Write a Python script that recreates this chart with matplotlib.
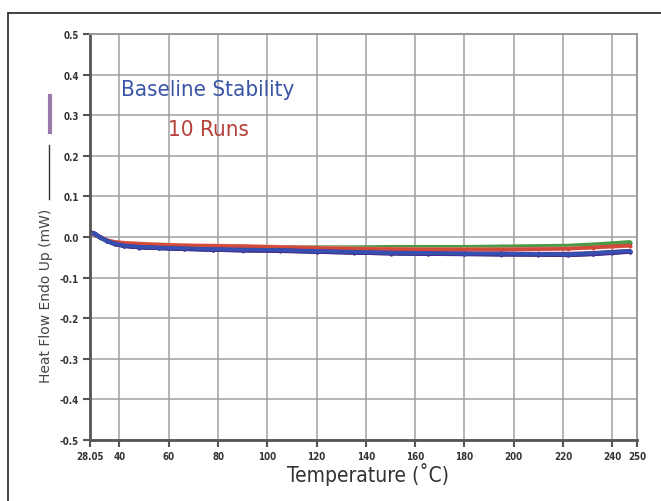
#!/usr/bin/env python3
"""
Baseline stability plot: heat flow versus temperature for ten repeated
empty-pan runs, drawn on a fixed -0.5 .. 0.5 mW scale.
"""

import matplotlib
matplotlib.use("Agg")
import matplotlib.pyplot as plt
from matplotlib.lines import Line2D
from matplotlib.patches import Rectangle

# Temperature sample points (deg C) shared by all runs
temps = [28.05, 30, 32, 35, 38, 42, 48, 56, 66, 78, 90, 105, 120, 135,
         150, 165, 180, 195, 210, 222, 232, 240, 247]

# Heat flow (mW) for each run
run_black = [0.011, 0.007, -0.001, -0.009, -0.014, -0.018, -0.020, -0.022, -0.024, -0.025, -0.026, -0.027,
             -0.028, -0.028, -0.028, -0.028, -0.027, -0.026, -0.025, -0.023, -0.021, -0.018, -0.016]
run_green = [0.010, 0.006, -0.002, -0.009, -0.014, -0.017, -0.019, -0.021, -0.022, -0.023, -0.024, -0.025,
             -0.025, -0.025, -0.024, -0.024, -0.024, -0.023, -0.022, -0.021, -0.018, -0.015, -0.012]
run_salmon = [0.010, 0.006, -0.001, -0.008, -0.012, -0.014, -0.016, -0.018, -0.020, -0.021, -0.022, -0.024,
              -0.026, -0.028, -0.029, -0.030, -0.030, -0.030, -0.029, -0.028, -0.026, -0.024, -0.022]
run_red = [0.010, 0.006, -0.001, -0.008, -0.012, -0.015, -0.017, -0.019, -0.021, -0.022, -0.023, -0.025,
           -0.027, -0.029, -0.030, -0.031, -0.031, -0.031, -0.030, -0.029, -0.026, -0.023, -0.021]
run_magenta = [0.012, 0.008, 0.000, -0.009, -0.016, -0.021, -0.024, -0.026, -0.028, -0.030, -0.031, -0.032,
               -0.034, -0.036, -0.038, -0.039, -0.040, -0.040, -0.041, -0.041, -0.039, -0.036, -0.034]
run_violet = [0.013, 0.009, 0.001, -0.009, -0.016, -0.021, -0.025, -0.027, -0.029, -0.031, -0.032, -0.033,
              -0.035, -0.037, -0.039, -0.040, -0.041, -0.042, -0.042, -0.043, -0.041, -0.038, -0.035]
run_blue = [0.012, 0.008, 0.000, -0.010, -0.017, -0.022, -0.025, -0.027, -0.029, -0.031, -0.032, -0.033,
            -0.036, -0.038, -0.040, -0.041, -0.041, -0.042, -0.043, -0.044, -0.041, -0.038, -0.036]
run_navy = [0.012, 0.007, -0.001, -0.011, -0.018, -0.023, -0.026, -0.028, -0.030, -0.032, -0.033, -0.034,
            -0.037, -0.039, -0.041, -0.042, -0.042, -0.043, -0.044, -0.045, -0.042, -0.039, -0.036]
run_purple = [0.013, 0.008, 0.000, -0.010, -0.017, -0.022, -0.026, -0.028, -0.030, -0.032, -0.034, -0.035,
              -0.037, -0.039, -0.041, -0.042, -0.043, -0.044, -0.044, -0.045, -0.043, -0.040, -0.037]
run_royal = [0.011, 0.007, -0.001, -0.010, -0.016, -0.021, -0.024, -0.026, -0.028, -0.030, -0.031, -0.032,
             -0.035, -0.037, -0.039, -0.040, -0.041, -0.041, -0.042, -0.043, -0.040, -0.037, -0.034]

runs = [run_black, run_green, run_salmon, run_red, run_magenta,
        run_violet, run_blue, run_navy, run_purple, run_royal]
run_colors = ["#3a3a3a", "#4c9a48", "#e58878", "#d24a3a", "#7a3a8e",
              "#5b3b9a", "#2f46a6", "#1f2a7c", "#4a2a86", "#3550b0"]

x_ticks = [28.05, 40, 60, 80, 100, 120, 140, 160, 180, 200, 220, 240, 250]
x_tick_labels = ["28.05", "40", "60", "80", "100", "120", "140", "160",
                 "180", "200", "220", "240", "250"]
y_ticks = [0.5, 0.4, 0.3, 0.2, 0.1, 0.0, -0.1, -0.2, -0.3, -0.4, -0.5]
y_tick_labels = ["0.5", "0.4", "0.3", "0.2", "0.1", "0.0", "-0.1", "-0.2",
                 "-0.3", "-0.4", "-0.5"]


def main():
    W, H = 661, 502
    fig = plt.figure(figsize=(W / 100, H / 100), dpi=100)
    fig.patch.set_facecolor("white")

    # outer frame (only top and left edges fall inside the image)
    fig.patches.append(Rectangle((8 / W, -0.2), 1.2, 1.2 - 14 / H,
                                 transform=fig.transFigure, fill=False,
                                 edgecolor="#333333", linewidth=1.3))

    ax = fig.add_axes([90 / W, 61 / H, 547 / W, 406 / H])

    for vals, col in zip(runs, run_colors):
        ax.plot(temps, vals, color=col, linewidth=2.6, marker=".",
                markersize=3.5, solid_capstyle="round")

    ax.set_xlim(28.05, 250)
    ax.set_ylim(-0.5, 0.5)
    ax.set_xticks(x_ticks)
    ax.set_xticklabels(x_tick_labels)
    ax.set_yticks(y_ticks)
    ax.set_yticklabels(y_tick_labels)

    ax.grid(True, color="#a0a0a0", linewidth=1.1)
    ax.set_axisbelow(True)
    for side in ("top", "right"):
        ax.spines[side].set_color("#9a9a9a")
        ax.spines[side].set_linewidth(1.4)
    for side in ("left", "bottom"):
        ax.spines[side].set_color("#555555")
        ax.spines[side].set_linewidth(2.0)

    ax.tick_params(direction="out", length=5, width=1.5, color="#555555",
                   pad=3, labelcolor="#333333")
    for lab in ax.get_xticklabels() + ax.get_yticklabels():
        lab.set_fontsize(7)
        lab.set_fontweight("bold")
        lab.set_fontstretch("condensed")

    # titles inside the plot area
    fig.text(208 / W, 1 - 90 / H, "Baseline Stability", ha="center",
             va="center", fontsize=16, color="#3a55a8",
             fontstretch="condensed")
    fig.text(208 / W, 1 - 130 / H, "10 Runs", ha="center", va="center",
             fontsize=16, color="#b5403a", fontstretch="condensed")

    # axis labels
    fig.text(368 / W, 1 - 475 / H, "Temperature (\u02daC)", ha="center",
             va="center", fontsize=15, color="#333333",
             fontstretch="condensed")
    fig.text(46 / W, 1 - 296 / H, "Heat Flow Endo Up (mW)", rotation=90,
             ha="center", va="center", fontsize=10, color="#444444")

    # legend strokes next to the y label
    fig.add_artist(Line2D([49 / W, 49 / W], [1 - 200 / H, 1 - 146 / H],
                          transform=fig.transFigure, color="#333333",
                          linewidth=1.0))
    fig.add_artist(Line2D([50 / W, 50 / W], [1 - 133 / H, 1 - 97 / H],
                          transform=fig.transFigure, color="#9a7aaa",
                          linewidth=3.0))

    fig.savefig("out.png", dpi=100, facecolor="white")


if __name__ == "__main__":
    main()
